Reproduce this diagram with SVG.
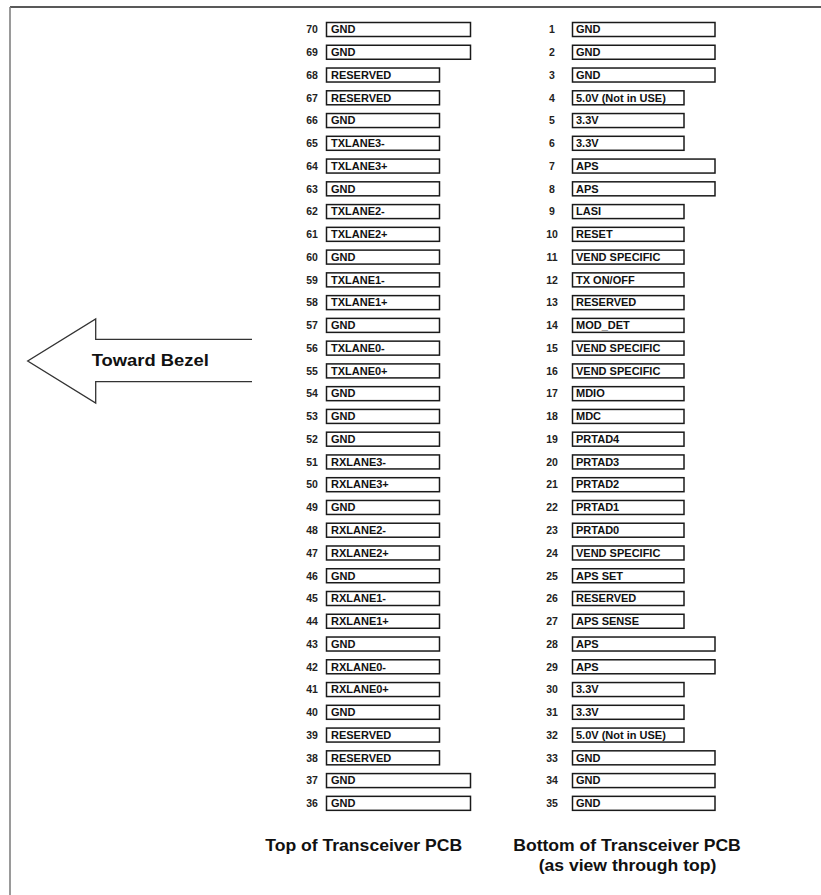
<svg xmlns="http://www.w3.org/2000/svg" width="821" height="895" viewBox="0 0 821 895">
<style>
.b{fill:#fff;stroke:#1a1a1a;stroke-width:1.5}
.n{font-family:"Liberation Sans",Arial,sans-serif;font-weight:bold;font-size:10.5px;fill:#222;text-anchor:middle}
.t{font-family:"Liberation Sans",Arial,sans-serif;font-weight:bold;font-size:11px;fill:#111}
.h{font-family:"Liberation Sans",Arial,sans-serif;font-weight:bold;font-size:16px;fill:#111;text-anchor:middle}
</style>
<rect width="821" height="895" fill="#fff"/>
<g id="frame">
<line x1="10" y1="7" x2="821" y2="7" stroke="#222" stroke-width="1.5"/>
<line x1="10" y1="7" x2="10" y2="895" stroke="#808080" stroke-width="1.6"/>
</g>
<g id="arrow">
<path d="M252 339.3 L95.7 339.3 L95.7 319 L27.7 361 L95.7 403 L95.7 381.7 L252 381.7" fill="none" stroke="#333" stroke-width="1.3"/>
<text class="h" style="text-anchor:start" transform="translate(91.7 365.5) scale(1.15 1)" font-size="16.5">Toward Bezel</text>
</g>
<g id="left">
<g id="p70" transform="translate(0 22.5)"><rect class="b" x="326.5" width="144" height="14"/><text class="n" x="312" y="10.8">70</text><text class="t" x="331" y="10.8">GND</text></g>
<g id="p69" transform="translate(0 45.26)"><rect class="b" x="326.5" width="144" height="14"/><text class="n" x="312" y="10.8">69</text><text class="t" x="331" y="10.8">GND</text></g>
<g id="p68" transform="translate(0 68.02)"><rect class="b" x="326.5" width="113" height="14"/><text class="n" x="312" y="10.8">68</text><text class="t" x="331" y="10.8">RESERVED</text></g>
<g id="p67" transform="translate(0 90.78)"><rect class="b" x="326.5" width="113" height="14"/><text class="n" x="312" y="10.8">67</text><text class="t" x="331" y="10.8">RESERVED</text></g>
<g id="p66" transform="translate(0 113.54)"><rect class="b" x="326.5" width="113" height="14"/><text class="n" x="312" y="10.8">66</text><text class="t" x="331" y="10.8">GND</text></g>
<g id="p65" transform="translate(0 136.3)"><rect class="b" x="326.5" width="113" height="14"/><text class="n" x="312" y="10.8">65</text><text class="t" x="331" y="10.8">TXLANE3-</text></g>
<g id="p64" transform="translate(0 159.06)"><rect class="b" x="326.5" width="113" height="14"/><text class="n" x="312" y="10.8">64</text><text class="t" x="331" y="10.8">TXLANE3+</text></g>
<g id="p63" transform="translate(0 181.82)"><rect class="b" x="326.5" width="113" height="14"/><text class="n" x="312" y="10.8">63</text><text class="t" x="331" y="10.8">GND</text></g>
<g id="p62" transform="translate(0 204.58)"><rect class="b" x="326.5" width="113" height="14"/><text class="n" x="312" y="10.8">62</text><text class="t" x="331" y="10.8">TXLANE2-</text></g>
<g id="p61" transform="translate(0 227.34)"><rect class="b" x="326.5" width="113" height="14"/><text class="n" x="312" y="10.8">61</text><text class="t" x="331" y="10.8">TXLANE2+</text></g>
<g id="p60" transform="translate(0 250.1)"><rect class="b" x="326.5" width="113" height="14"/><text class="n" x="312" y="10.8">60</text><text class="t" x="331" y="10.8">GND</text></g>
<g id="p59" transform="translate(0 272.86)"><rect class="b" x="326.5" width="113" height="14"/><text class="n" x="312" y="10.8">59</text><text class="t" x="331" y="10.8">TXLANE1-</text></g>
<g id="p58" transform="translate(0 295.62)"><rect class="b" x="326.5" width="113" height="14"/><text class="n" x="312" y="10.8">58</text><text class="t" x="331" y="10.8">TXLANE1+</text></g>
<g id="p57" transform="translate(0 318.38)"><rect class="b" x="326.5" width="113" height="14"/><text class="n" x="312" y="10.8">57</text><text class="t" x="331" y="10.8">GND</text></g>
<g id="p56" transform="translate(0 341.14)"><rect class="b" x="326.5" width="113" height="14"/><text class="n" x="312" y="10.8">56</text><text class="t" x="331" y="10.8">TXLANE0-</text></g>
<g id="p55" transform="translate(0 363.9)"><rect class="b" x="326.5" width="113" height="14"/><text class="n" x="312" y="10.8">55</text><text class="t" x="331" y="10.8">TXLANE0+</text></g>
<g id="p54" transform="translate(0 386.66)"><rect class="b" x="326.5" width="113" height="14"/><text class="n" x="312" y="10.8">54</text><text class="t" x="331" y="10.8">GND</text></g>
<g id="p53" transform="translate(0 409.42)"><rect class="b" x="326.5" width="113" height="14"/><text class="n" x="312" y="10.8">53</text><text class="t" x="331" y="10.8">GND</text></g>
<g id="p52" transform="translate(0 432.18)"><rect class="b" x="326.5" width="113" height="14"/><text class="n" x="312" y="10.8">52</text><text class="t" x="331" y="10.8">GND</text></g>
<g id="p51" transform="translate(0 454.94)"><rect class="b" x="326.5" width="113" height="14"/><text class="n" x="312" y="10.8">51</text><text class="t" x="331" y="10.8">RXLANE3-</text></g>
<g id="p50" transform="translate(0 477.7)"><rect class="b" x="326.5" width="113" height="14"/><text class="n" x="312" y="10.8">50</text><text class="t" x="331" y="10.8">RXLANE3+</text></g>
<g id="p49" transform="translate(0 500.46)"><rect class="b" x="326.5" width="113" height="14"/><text class="n" x="312" y="10.8">49</text><text class="t" x="331" y="10.8">GND</text></g>
<g id="p48" transform="translate(0 523.22)"><rect class="b" x="326.5" width="113" height="14"/><text class="n" x="312" y="10.8">48</text><text class="t" x="331" y="10.8">RXLANE2-</text></g>
<g id="p47" transform="translate(0 545.98)"><rect class="b" x="326.5" width="113" height="14"/><text class="n" x="312" y="10.8">47</text><text class="t" x="331" y="10.8">RXLANE2+</text></g>
<g id="p46" transform="translate(0 568.74)"><rect class="b" x="326.5" width="113" height="14"/><text class="n" x="312" y="10.8">46</text><text class="t" x="331" y="10.8">GND</text></g>
<g id="p45" transform="translate(0 591.5)"><rect class="b" x="326.5" width="113" height="14"/><text class="n" x="312" y="10.8">45</text><text class="t" x="331" y="10.8">RXLANE1-</text></g>
<g id="p44" transform="translate(0 614.26)"><rect class="b" x="326.5" width="113" height="14"/><text class="n" x="312" y="10.8">44</text><text class="t" x="331" y="10.8">RXLANE1+</text></g>
<g id="p43" transform="translate(0 637.02)"><rect class="b" x="326.5" width="113" height="14"/><text class="n" x="312" y="10.8">43</text><text class="t" x="331" y="10.8">GND</text></g>
<g id="p42" transform="translate(0 659.78)"><rect class="b" x="326.5" width="113" height="14"/><text class="n" x="312" y="10.8">42</text><text class="t" x="331" y="10.8">RXLANE0-</text></g>
<g id="p41" transform="translate(0 682.54)"><rect class="b" x="326.5" width="113" height="14"/><text class="n" x="312" y="10.8">41</text><text class="t" x="331" y="10.8">RXLANE0+</text></g>
<g id="p40" transform="translate(0 705.3)"><rect class="b" x="326.5" width="113" height="14"/><text class="n" x="312" y="10.8">40</text><text class="t" x="331" y="10.8">GND</text></g>
<g id="p39" transform="translate(0 728.06)"><rect class="b" x="326.5" width="113" height="14"/><text class="n" x="312" y="10.8">39</text><text class="t" x="331" y="10.8">RESERVED</text></g>
<g id="p38" transform="translate(0 750.82)"><rect class="b" x="326.5" width="113" height="14"/><text class="n" x="312" y="10.8">38</text><text class="t" x="331" y="10.8">RESERVED</text></g>
<g id="p37" transform="translate(0 773.58)"><rect class="b" x="326.5" width="144" height="14"/><text class="n" x="312" y="10.8">37</text><text class="t" x="331" y="10.8">GND</text></g>
<g id="p36" transform="translate(0 796.34)"><rect class="b" x="326.5" width="144" height="14"/><text class="n" x="312" y="10.8">36</text><text class="t" x="331" y="10.8">GND</text></g>
</g>
<g id="right">
<g id="p1" transform="translate(0 22.5)"><rect class="b" x="572.5" width="142.5" height="14"/><text class="n" x="552" y="10.8">1</text><text class="t" x="576" y="10.8">GND</text></g>
<g id="p2" transform="translate(0 45.26)"><rect class="b" x="572.5" width="142.5" height="14"/><text class="n" x="552" y="10.8">2</text><text class="t" x="576" y="10.8">GND</text></g>
<g id="p3" transform="translate(0 68.02)"><rect class="b" x="572.5" width="142.5" height="14"/><text class="n" x="552" y="10.8">3</text><text class="t" x="576" y="10.8">GND</text></g>
<g id="p4" transform="translate(0 90.78)"><rect class="b" x="572.5" width="111.5" height="14"/><text class="n" x="552" y="10.8">4</text><text class="t" x="576" y="10.8">5.0V (Not in USE)</text></g>
<g id="p5" transform="translate(0 113.54)"><rect class="b" x="572.5" width="111.5" height="14"/><text class="n" x="552" y="10.8">5</text><text class="t" x="576" y="10.8">3.3V</text></g>
<g id="p6" transform="translate(0 136.3)"><rect class="b" x="572.5" width="111.5" height="14"/><text class="n" x="552" y="10.8">6</text><text class="t" x="576" y="10.8">3.3V</text></g>
<g id="p7" transform="translate(0 159.06)"><rect class="b" x="572.5" width="142.5" height="14"/><text class="n" x="552" y="10.8">7</text><text class="t" x="576" y="10.8">APS</text></g>
<g id="p8" transform="translate(0 181.82)"><rect class="b" x="572.5" width="142.5" height="14"/><text class="n" x="552" y="10.8">8</text><text class="t" x="576" y="10.8">APS</text></g>
<g id="p9" transform="translate(0 204.58)"><rect class="b" x="572.5" width="111.5" height="14"/><text class="n" x="552" y="10.8">9</text><text class="t" x="576" y="10.8">LASI</text></g>
<g id="p10" transform="translate(0 227.34)"><rect class="b" x="572.5" width="111.5" height="14"/><text class="n" x="552" y="10.8">10</text><text class="t" x="576" y="10.8">RESET</text></g>
<g id="p11" transform="translate(0 250.1)"><rect class="b" x="572.5" width="111.5" height="14"/><text class="n" x="552" y="10.8">11</text><text class="t" x="576" y="10.8">VEND SPECIFIC</text></g>
<g id="p12" transform="translate(0 272.86)"><rect class="b" x="572.5" width="111.5" height="14"/><text class="n" x="552" y="10.8">12</text><text class="t" x="576" y="10.8">TX ON/OFF</text></g>
<g id="p13" transform="translate(0 295.62)"><rect class="b" x="572.5" width="111.5" height="14"/><text class="n" x="552" y="10.8">13</text><text class="t" x="576" y="10.8">RESERVED</text></g>
<g id="p14" transform="translate(0 318.38)"><rect class="b" x="572.5" width="111.5" height="14"/><text class="n" x="552" y="10.8">14</text><text class="t" x="576" y="10.8">MOD_DET</text></g>
<g id="p15" transform="translate(0 341.14)"><rect class="b" x="572.5" width="111.5" height="14"/><text class="n" x="552" y="10.8">15</text><text class="t" x="576" y="10.8">VEND SPECIFIC</text></g>
<g id="p16" transform="translate(0 363.9)"><rect class="b" x="572.5" width="111.5" height="14"/><text class="n" x="552" y="10.8">16</text><text class="t" x="576" y="10.8">VEND SPECIFIC</text></g>
<g id="p17" transform="translate(0 386.66)"><rect class="b" x="572.5" width="111.5" height="14"/><text class="n" x="552" y="10.8">17</text><text class="t" x="576" y="10.8">MDIO</text></g>
<g id="p18" transform="translate(0 409.42)"><rect class="b" x="572.5" width="111.5" height="14"/><text class="n" x="552" y="10.8">18</text><text class="t" x="576" y="10.8">MDC</text></g>
<g id="p19" transform="translate(0 432.18)"><rect class="b" x="572.5" width="111.5" height="14"/><text class="n" x="552" y="10.8">19</text><text class="t" x="576" y="10.8">PRTAD4</text></g>
<g id="p20" transform="translate(0 454.94)"><rect class="b" x="572.5" width="111.5" height="14"/><text class="n" x="552" y="10.8">20</text><text class="t" x="576" y="10.8">PRTAD3</text></g>
<g id="p21" transform="translate(0 477.7)"><rect class="b" x="572.5" width="111.5" height="14"/><text class="n" x="552" y="10.8">21</text><text class="t" x="576" y="10.8">PRTAD2</text></g>
<g id="p22" transform="translate(0 500.46)"><rect class="b" x="572.5" width="111.5" height="14"/><text class="n" x="552" y="10.8">22</text><text class="t" x="576" y="10.8">PRTAD1</text></g>
<g id="p23" transform="translate(0 523.22)"><rect class="b" x="572.5" width="111.5" height="14"/><text class="n" x="552" y="10.8">23</text><text class="t" x="576" y="10.8">PRTAD0</text></g>
<g id="p24" transform="translate(0 545.98)"><rect class="b" x="572.5" width="111.5" height="14"/><text class="n" x="552" y="10.8">24</text><text class="t" x="576" y="10.8">VEND SPECIFIC</text></g>
<g id="p25" transform="translate(0 568.74)"><rect class="b" x="572.5" width="111.5" height="14"/><text class="n" x="552" y="10.8">25</text><text class="t" x="576" y="10.8">APS SET</text></g>
<g id="p26" transform="translate(0 591.5)"><rect class="b" x="572.5" width="111.5" height="14"/><text class="n" x="552" y="10.8">26</text><text class="t" x="576" y="10.8">RESERVED</text></g>
<g id="p27" transform="translate(0 614.26)"><rect class="b" x="572.5" width="111.5" height="14"/><text class="n" x="552" y="10.8">27</text><text class="t" x="576" y="10.8">APS SENSE</text></g>
<g id="p28" transform="translate(0 637.02)"><rect class="b" x="572.5" width="142.5" height="14"/><text class="n" x="552" y="10.8">28</text><text class="t" x="576" y="10.8">APS</text></g>
<g id="p29" transform="translate(0 659.78)"><rect class="b" x="572.5" width="142.5" height="14"/><text class="n" x="552" y="10.8">29</text><text class="t" x="576" y="10.8">APS</text></g>
<g id="p30" transform="translate(0 682.54)"><rect class="b" x="572.5" width="111.5" height="14"/><text class="n" x="552" y="10.8">30</text><text class="t" x="576" y="10.8">3.3V</text></g>
<g id="p31" transform="translate(0 705.3)"><rect class="b" x="572.5" width="111.5" height="14"/><text class="n" x="552" y="10.8">31</text><text class="t" x="576" y="10.8">3.3V</text></g>
<g id="p32" transform="translate(0 728.06)"><rect class="b" x="572.5" width="111.5" height="14"/><text class="n" x="552" y="10.8">32</text><text class="t" x="576" y="10.8">5.0V (Not in USE)</text></g>
<g id="p33" transform="translate(0 750.82)"><rect class="b" x="572.5" width="142.5" height="14"/><text class="n" x="552" y="10.8">33</text><text class="t" x="576" y="10.8">GND</text></g>
<g id="p34" transform="translate(0 773.58)"><rect class="b" x="572.5" width="142.5" height="14"/><text class="n" x="552" y="10.8">34</text><text class="t" x="576" y="10.8">GND</text></g>
<g id="p35" transform="translate(0 796.34)"><rect class="b" x="572.5" width="142.5" height="14"/><text class="n" x="552" y="10.8">35</text><text class="t" x="576" y="10.8">GND</text></g>
</g>
<g id="titles">
<text class="h" transform="translate(363.7 850.7) scale(1.1 1)">Top of Transceiver PCB</text>
<text class="h" transform="translate(627 850.7) scale(1.1 1)">Bottom of Transceiver PCB</text>
<text class="h" transform="translate(627.5 870.5) scale(1.1 1)">(as view through top)</text>
</g>
</svg>
